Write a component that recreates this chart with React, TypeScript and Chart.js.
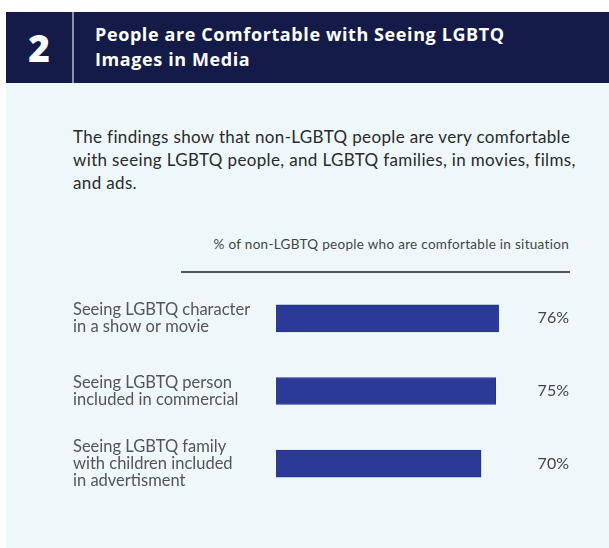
import React, { useEffect, useRef } from "react";
import { Chart, registerables } from "chart.js";

Chart.register(...registerables);

const categories: string[][] = [
  ["Seeing LGBTQ character", "in a show or movie"],
  ["Seeing LGBTQ person", "included in commercial"],
  ["Seeing LGBTQ family", "with children included", "in advertisment"],
];
const values: number[] = [76, 75, 70];
const valueLabels: string[] = values.map((v) => `${v}%`);

const FONT = "Lato, 'Open Sans', sans-serif";

export default function App() {
  const canvasRef = useRef<HTMLCanvasElement | null>(null);

  useEffect(() => {
    if (!canvasRef.current) return;
    const noPad = (scale: any, w: number) => {
      scale.width = w;
      scale.paddingTop = 0;
      scale.paddingBottom = 0;
    };
    const chart = new Chart(canvasRef.current, {
      type: "bar",
      data: {
        labels: categories,
        datasets: [
          {
            data: values,
            backgroundColor: "#2b3a97",
            borderColor: "#25328a",
            borderWidth: 1,
            barThickness: 27,
          },
        ],
      },
      options: {
        indexAxis: "y",
        animation: false,
        responsive: true,
        maintainAspectRatio: false,
        layout: { padding: 0 },
        plugins: {
          legend: { display: false },
          tooltip: { enabled: false },
          title: { display: false },
        },
        scales: {
          x: {
            display: false,
            min: 0,
            max: 85,
          },
          y: {
            position: "left",
            grid: { display: false },
            border: { display: false },
            ticks: {
              crossAlign: "far",
              color: "#555555",
              font: { family: FONT, size: 16.5, lineHeight: 1.06 },
              padding: 0,
            },
            afterFit: (scale: any) => noPad(scale, 203),
          },
          y2: {
            type: "category",
            labels: valueLabels,
            position: "right",
            offset: true,
            grid: { display: false },
            border: { display: false },
            ticks: {
              crossAlign: "far",
              color: "#444444",
              font: { family: FONT, size: 16 },
              padding: 0,
            },
            afterFit: (scale: any) => noPad(scale, 44),
          },
        },
      },
    });
    return () => chart.destroy();
  }, []);

  return (
    <div
      style={{
        position: "absolute",
        left: 0,
        top: 0,
        width: 609,
        height: 548,
        background: "#ffffff",
        overflow: "hidden",
        fontFamily: FONT,
      }}
    >
      <div
        style={{
          position: "absolute",
          left: 6,
          top: 12,
          right: 0,
          bottom: 0,
          background: "#eef8fb",
        }}
      />
      <div
        style={{
          position: "absolute",
          left: 6,
          top: 12,
          right: 0,
          height: 71,
          background: "#141b48",
        }}
      />
      <div
        style={{
          position: "absolute",
          left: 72,
          top: 12,
          width: 2,
          height: 71,
          background: "#8d93ad",
        }}
      />
      <div
        style={{
          position: "absolute",
          left: 6,
          top: 12,
          width: 66,
          height: 71,
          display: "flex",
          alignItems: "center",
          justifyContent: "center",
          color: "#ffffff",
          fontFamily: "'Open Sans', sans-serif",
          fontWeight: 800,
          fontSize: 37,
        }}
      >
        2
      </div>
      <div
        style={{
          position: "absolute",
          left: 95,
          top: 22,
          color: "#ffffff",
          fontFamily: "'Open Sans', sans-serif",
          fontWeight: 700,
          fontSize: 18,
          letterSpacing: 0.6,
          lineHeight: "25px",
          whiteSpace: "nowrap",
        }}
      >
        People are Comfortable with Seeing LGBTQ
        <br />
        Images in Media
      </div>
      <div
        style={{
          position: "absolute",
          left: 73,
          top: 125,
          color: "#2a2a2a",
          fontSize: 17,
          letterSpacing: 0.35,
          lineHeight: "23px",
          whiteSpace: "nowrap",
        }}
      >
        The findings show that non-LGBTQ people are very comfortable
        <br />
        with seeing LGBTQ people, and LGBTQ families, in movies, films,
        <br />
        and ads.
      </div>
      <div
        style={{
          position: "absolute",
          right: 40,
          top: 236,
          color: "#444444",
          fontSize: 13.5,
          letterSpacing: 0.3,
          lineHeight: "17px",
          whiteSpace: "nowrap",
        }}
      >
        % of non-LGBTQ people who are comfortable in situation
      </div>
      <div
        style={{
          position: "absolute",
          left: 181,
          top: 271,
          width: 389,
          height: 2,
          background: "#555555",
        }}
      />
      <div
        style={{
          position: "absolute",
          left: 73,
          top: 282,
          width: 496,
          height: 218,
        }}
      >
        <canvas ref={canvasRef} />
      </div>
    </div>
  );
}
